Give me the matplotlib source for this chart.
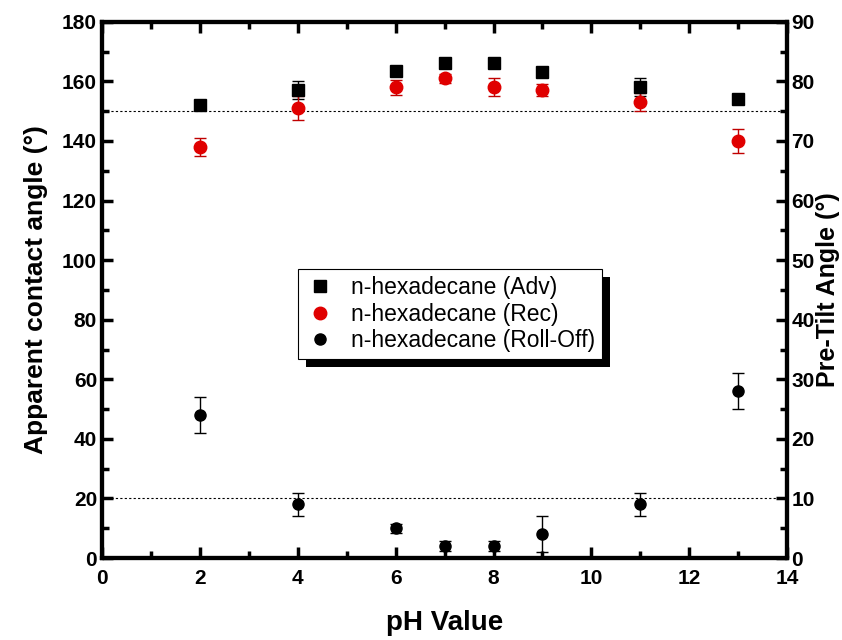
import numpy as np
import matplotlib
matplotlib.use("Agg")
from matplotlib import pyplot as plt
from matplotlib.ticker import MultipleLocator
from matplotlib.patches import Rectangle

plt.rcParams['font.family'] = ['Liberation Sans', 'DejaVu Sans']

# data
ph = [2, 4, 6, 7, 8, 9, 11, 13]
adv = [152, 157, 163.5, 166, 166, 163, 158, 154]
adv_err = [1.5, 3, 0.5, 0.5, 0.5, 0.5, 3, 0.5]
rec = [138, 151, 158, 161, 158, 157, 153, 140]
rec_err = [3, 4, 2.5, 1.5, 3, 2, 3, 4]
# roll-off / pre-tilt angle (right axis, degrees)
roll = [24, 9, 5, 2, 2, 4, 9, 28]
roll_err = [3, 2, 0.8, 0.8, 0.8, 3, 2, 3]

fig = plt.figure(figsize=(8.42, 6.4), dpi=100)
ax = fig.add_axes([0.121, 0.128, 0.814, 0.838])
ax2 = ax.twinx()

ax.axhline(150, color='k', ls=(0, (2, 2)), lw=0.8, zorder=1)
ax.axhline(20, color='k', ls=(0, (2, 2)), lw=0.8, zorder=1)

h1 = ax.errorbar(ph, adv, yerr=adv_err, fmt='s', color='k', ms=8,
                 capsize=4, elinewidth=1, zorder=3)
h2 = ax.errorbar(ph, rec, yerr=rec_err, fmt='o', color='#e00000', ms=9,
                 capsize=4, elinewidth=1, ecolor='#c00000', zorder=3)
h3 = ax2.errorbar(ph, roll, yerr=roll_err, fmt='o', color='k', ms=8,
                  capsize=4, elinewidth=1, zorder=3)

ax.set_xlim(0, 14)
ax.set_ylim(0, 180)
ax2.set_ylim(0, 90)
ax.xaxis.set_major_locator(MultipleLocator(2))
ax.xaxis.set_minor_locator(MultipleLocator(1))
ax.yaxis.set_major_locator(MultipleLocator(20))
ax.yaxis.set_minor_locator(MultipleLocator(10))
ax2.yaxis.set_major_locator(MultipleLocator(10))
ax2.yaxis.set_minor_locator(MultipleLocator(5))

ax.tick_params(which='both', direction='in', top=True, width=2.5)
ax.tick_params(which='major', length=8)
ax.tick_params(which='minor', length=5)
ax.tick_params(axis='x', pad=8)
ax2.tick_params(which='both', direction='in', width=2.5, pad=3)
ax2.tick_params(which='major', length=8)
ax2.tick_params(which='minor', length=5)
for a in (ax, ax2):
    for s in a.spines.values():
        s.set_linewidth(3)
    for lab in a.get_xticklabels() + a.get_yticklabels():
        lab.set_fontweight('bold')
        lab.set_fontsize(15)

ax.set_xlabel('pH Value', fontsize=20, fontweight='bold', labelpad=16)
ax.set_ylabel('Apparent contact angle (°)', fontsize=19, fontweight='bold', labelpad=10)
ax2.set_ylabel('Pre-Tilt Angle (°)', fontsize=18, fontweight='bold', labelpad=1)

leg = ax.legend([h1[0], h2[0], h3[0]],
                ['n-hexadecane (Adv)', 'n-hexadecane (Rec)', 'n-hexadecane (Roll-Off)'],
                loc='center', bbox_to_anchor=(0.508, 0.455), fontsize=16.5,
                frameon=True, shadow=False, fancybox=False, handletextpad=0.7,
                borderpad=0.3, labelspacing=0.15, handlelength=1.3)
leg.get_frame().set_edgecolor('k')
leg.get_frame().set_linewidth(0.8)
leg.get_frame().set_alpha(1)
leg.set_zorder(10)

# solid drop shadow behind the legend box
fig.canvas.draw()
bb = leg.get_window_extent().transformed(fig.transFigure.inverted())
dx, dy = 8 / 842, 8 / 640
shadow = Rectangle((bb.x0 + dx, bb.y0 - dy), bb.width, bb.height,
                   transform=fig.transFigure, facecolor='k', edgecolor='none',
                   zorder=9, clip_on=False)
ax.add_artist(shadow)

fig.savefig('out.png', dpi=100)
